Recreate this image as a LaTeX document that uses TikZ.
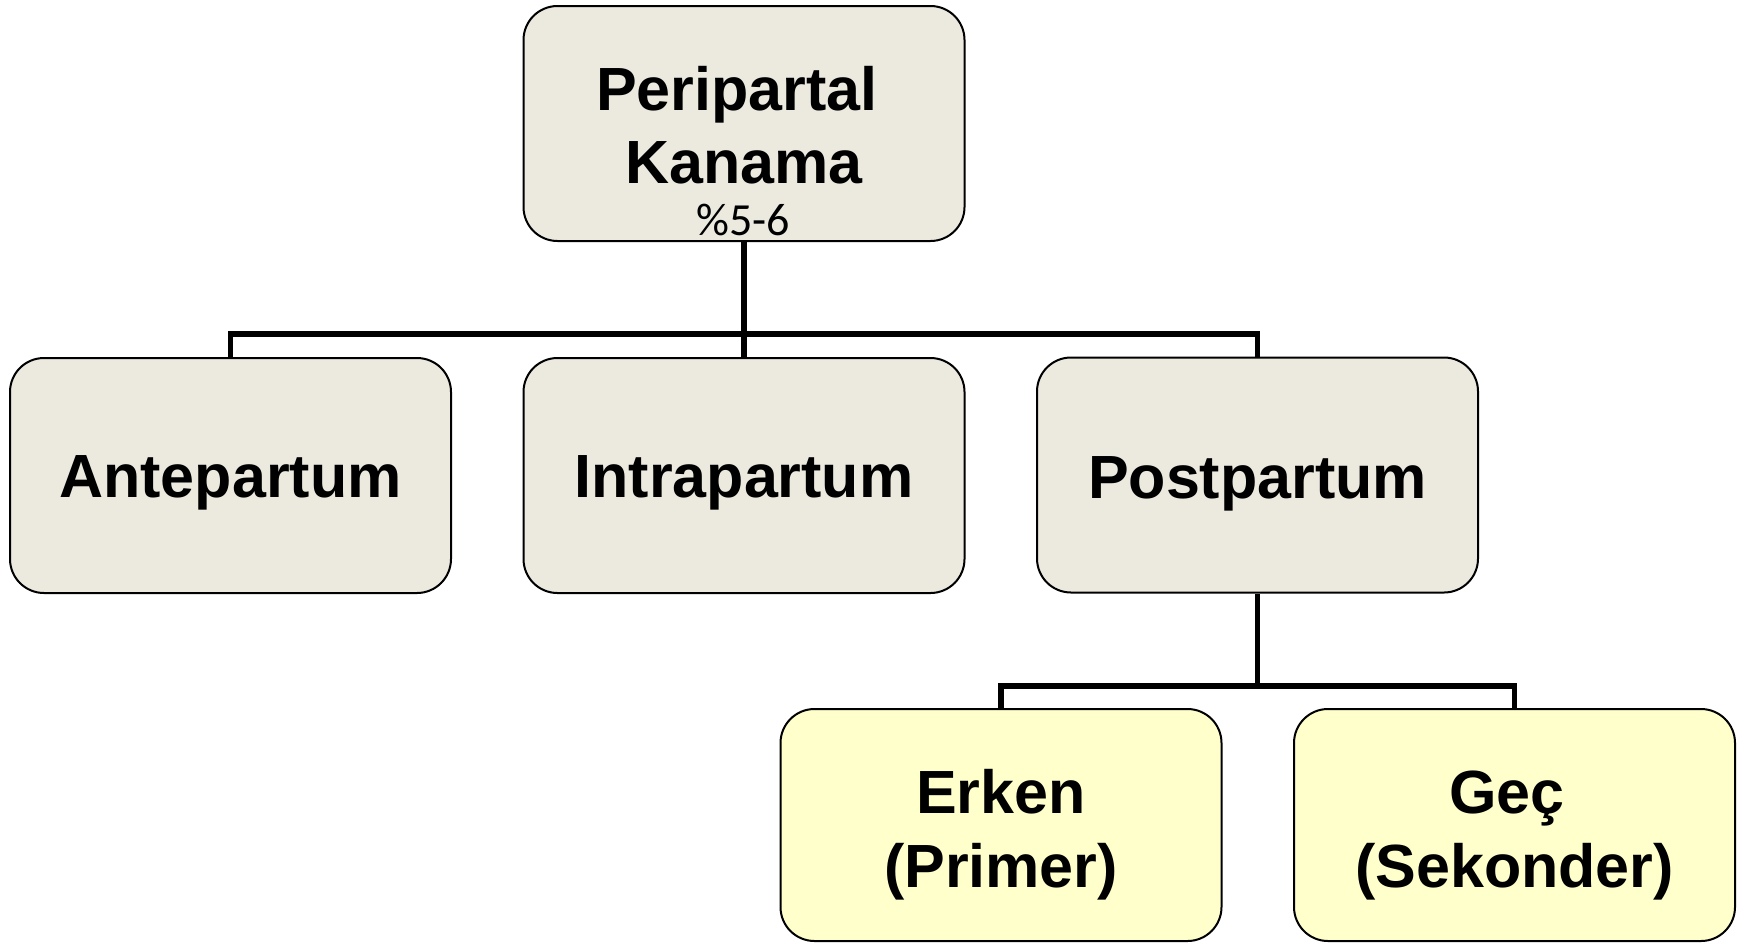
\documentclass[tikz,border=0pt]{standalone}
\usepackage{fontspec}
\setmainfont{Liberation Sans}
\newfontfamily\calibfont{Carlito}
\definecolor{boxgrey}{HTML}{ECEADF}
\definecolor{boxyellow}{HTML}{FFFFCC}
\begin{document}
\begin{tikzpicture}[x=0.5pt,y=-0.5pt,
  box/.style={draw=black, line width=1pt, rounded corners=17pt, minimum width=220.5pt, minimum height=117.5pt, inner sep=0pt},
  greybox/.style={box, fill=boxgrey},
  yellowbox/.style={box, fill=boxyellow},
  lbl/.style={anchor=base, inner sep=0pt, font=\fontsize{30.5}{37}\selectfont\bfseries},
  pct/.style={anchor=base, inner sep=0pt, font=\fontsize{23}{26}\selectfont\calibfont},
  conn/.style={line width=2.8pt, line join=miter}]
\path[use as bounding box, fill=white] (0,0) rectangle (1744,943);
% boxes
\node[greybox] (top) at (744,123.5) {};
\node[greybox] (ante) at (230.5,475.5) {};
\node[greybox] (intra) at (744,475.5) {};
\node[greybox] (post) at (1257.5,475) {};
\node[yellowbox, minimum height=116pt] (erken) at (1001,825) {};
\node[yellowbox, minimum height=116pt] (gec) at (1514.5,825) {};
% connectors
\coordinate (bar) at (744,334);
\coordinate (bartwo) at (1257.5,686);
\draw[conn] (top.south) -- (intra.north);
\draw[conn] (ante.north) -- (ante.north |- bar) -- (post.north |- bar) -- (post.north);
\draw[conn] (post.south) -- (post.south |- bartwo);
\draw[conn] (erken.north) -- (erken.north |- bartwo) -- (gec.north |- bartwo) -- (gec.north);
% texts
\node[lbl] (t1) at (737,110) {Peripartal};
\node[lbl] (t2) at (744,183) {Kanama};
\node[pct] (t3) at (743,235) {\%5-6};
\node[lbl] (t4) at (230.5,497) {Antepartum};
\node[lbl] (t5) at (744,497) {Intrapartum};
\node[lbl] (t6) at (1257.5,498) {Postpartum};
\node[lbl] (t7) at (1001,813) {Erken};
\node[lbl] (t8) at (1001,887) {(Primer)};
\node[lbl] (t9) at (1507,813) {Geç};
\node[lbl] (t10) at (1514.5,887) {(Sekonder)};
\end{tikzpicture}
\end{document}
